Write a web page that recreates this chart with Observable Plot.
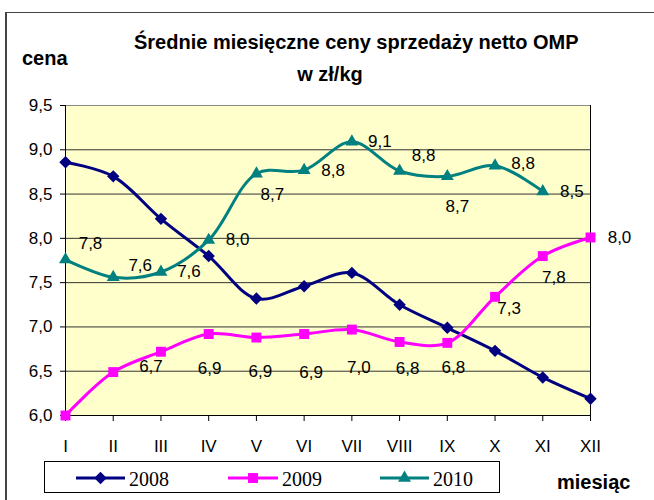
<!DOCTYPE html>
<html>
<head>
<meta charset="utf-8">
<script src="https://cdn.jsdelivr.net/npm/d3@7"></script>
<script src="https://cdn.jsdelivr.net/npm/@observablehq/plot@0.6"></script>
<style>
html, body { margin: 0; padding: 0; background: #fff; }
#wrap { position: relative; width: 654px; height: 500px; overflow: hidden; font-family: Arial, "Liberation Sans", sans-serif; }
#frame { position: absolute; left: 5px; top: 12px; width: 700px; height: 600px; border-left: 2px solid #444; border-top: 1px solid #444; }
#chart { position: absolute; left: 0; top: 0; }
.t { position: absolute; font-weight: bold; font-size: 20px; line-height: 20px; color: #000; white-space: nowrap; }
#legend { position: absolute; left: 44px; top: 461px; width: 454px; height: 30px; border: 1px solid #000; background: #fff; }
</style>
</head>
<body>
<div id="wrap">
  <div id="frame"></div>
  <div id="chart"></div>
  <div class="t" style="left:134px; width:400px; text-align:center; top:32px;">Średnie miesięczne ceny sprzedaży netto OMP</div>
  <div class="t" style="left:230px; width:200px; text-align:center; top:64px;">w zł/kg</div>
  <div class="t" style="left:22px; top:48px;">cena</div>
  <div class="t" style="left:557px; top:472px;">miesiąc</div>
  <div id="legend"></div>
</div>
<script>
// ---- data ----
const months = [1, 2, 3, 4, 5, 6, 7, 8, 9, 10, 11, 12];
const monthLabels = ["I", "II", "III", "IV", "V", "VI", "VII", "VIII", "IX", "X", "XI", "XII"];
const series = ["2008", "2009", "2010"];
const v2008 = [8.86, 8.70, 8.22, 7.80, 7.32, 7.46, 7.61, 7.25, 6.99, 6.73, 6.43, 6.19];
const v2009 = [6.00, 6.49, 6.72, 6.92, 6.88, 6.92, 6.97, 6.83, 6.82, 7.34, 7.80, 8.01];
const v2010 = [7.76, 7.56, 7.62, 7.98, 8.73, 8.77, 9.09, 8.76, 8.70, 8.82, 8.53, null];
const yTicks = [6.0, 6.5, 7.0, 7.5, 8.0, 8.5, 9.0, 9.5];

// ---- layout (label offsets in px, null = no label) ----
const labelOffsets2009 = [null, null, [-10, 15], [1, 35], [4, 34], [7, 39], [7, 38], [8, 27], [6, 25], [14, 12], [11, 21], [29, 0]];
const labelOffsets2010 = [[25, -16], [27, -12], [28, 0], [29, -1], [16, 21], [29, 0], [28, 0], [24, -15], [10, 30], [28, -2], [29, 0], null];

const colors = { "2008": "#000080", "2009": "#FF00FF", "2010": "#008080" };
const symbols = { "2008": "diamond2", "2009": "square", "2010": "triangle" };
const radii = { "2008": 5.6, "2009": 5.6, "2010": 4.8 };

const fmt = d => d3.format(".1f")(d).replace(".", ",");

function rows(values) {
  return months.map((m, i) => ({ m, v: values[i] })).filter(d => d.v != null);
}
const data = { "2008": rows(v2008), "2009": rows(v2009), "2010": rows(v2010) };

function labelMarks(values, offsets) {
  const out = [];
  months.forEach((m, i) => {
    const o = offsets[i];
    if (o == null || values[i] == null) return;
    out.push(Plot.text([{ m, v: values[i] }], {
      x: "m", y: "v", text: d => fmt(d.v), dx: o[0], dy: o[1],
      fill: "#000", fontSize: 17
    }));
  });
  return out;
}

const marks = [
  Plot.frame({ fill: "#FFFFCC", stroke: null }),
  Plot.gridY(yTicks, { stroke: "#333", strokeOpacity: 1 }),
  Plot.ruleY([9.5], { stroke: "#888" }),
  Plot.ruleX([12], { stroke: "#000" }),
  Plot.axisY(yTicks, { tickSize: 5, tickPadding: 8, tickFormat: fmt, fontSize: 17, label: null, stroke: "#000" }),
  Plot.axisX(months, { tickSize: 6, tickPadding: 18, tickFormat: d => monthLabels[d - 1], fontSize: 17, label: null, stroke: "#000" }),
  Plot.ruleX([1], { stroke: "#000" }),
  Plot.ruleY([6], { stroke: "#000" })
];
for (const s of series) {
  marks.push(Plot.line(data[s], { x: "m", y: "v", stroke: colors[s], strokeWidth: 3, curve: "catmull-rom" }));
}
for (const s of series) {
  marks.push(Plot.dot(data[s], { x: "m", y: "v", symbol: symbols[s], r: radii[s], fill: colors[s], stroke: null }));
}
marks.push(...labelMarks(v2009, labelOffsets2009));
marks.push(...labelMarks(v2010, labelOffsets2010));

const chart = Plot.plot({
  width: 654,
  height: 500,
  marginLeft: 65,
  marginRight: 64,
  marginTop: 105,
  marginBottom: 85,
  style: { background: "transparent", fontFamily: "Arial, 'Liberation Sans', sans-serif", fontSize: "17px", color: "#000" },
  x: { type: "linear", domain: [1, 12] },
  y: { domain: [6, 9.5] },
  marks
});
document.getElementById("chart").appendChild(chart);

// ---- legend ----
const legendItems = [
  { name: "2008", x0: 31, x1: 80, tx: 84 },
  { name: "2009", x0: 183, x1: 233, tx: 237 },
  { name: "2010", x0: 335, x1: 384, tx: 388 }
];
const symFn = { "2008": d3.symbolDiamond2, "2009": d3.symbolSquare, "2010": d3.symbolTriangle };
const lg = d3.select("#legend").append("svg").attr("width", 454).attr("height", 30);
for (const it of legendItems) {
  const c = colors[it.name];
  lg.append("line").attr("x1", it.x0).attr("x2", it.x1).attr("y1", 16).attr("y2", 16)
    .attr("stroke", c).attr("stroke-width", 3);
  const r = radii[it.name];
  lg.append("path").attr("transform", `translate(${(it.x0 + it.x1) / 2},16)`)
    .attr("d", d3.symbol(symFn[it.name], Math.PI * r * r)()).attr("fill", c);
  lg.append("text").attr("x", it.tx).attr("y", 24).text(it.name)
    .attr("font-family", "'Liberation Serif', 'Times New Roman', serif").attr("font-size", 20).attr("fill", "#000");
}
</script>
</body>
</html>
